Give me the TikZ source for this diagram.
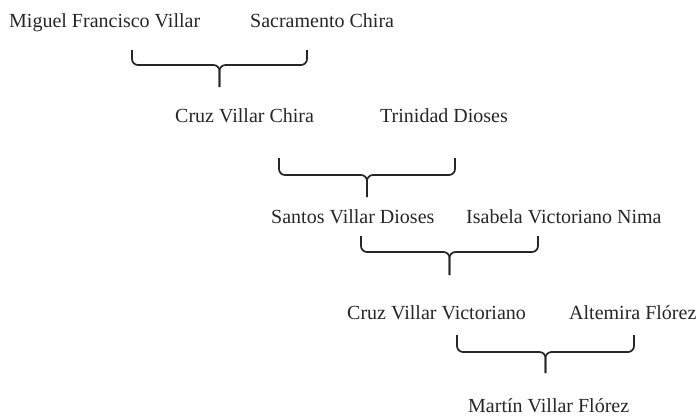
\documentclass[tikz,border=0pt]{standalone}
\usepackage{fontspec}
\setmainfont{Liberation Serif}
\usepackage{tikz}

\tikzset{
  person/.style={font=\fontsize{20}{24}\selectfont, text=black!85, anchor=base west, inner sep=0pt},
  brace/.style={draw=black!85, line width=1.7pt, rounded corners=6pt}
}

\begin{document}
\begin{tikzpicture}[x=1pt,y=-1pt]
    \useasboundingbox (0,0) rectangle (698,416);
    % generation 1
    \node[person] (miguel) at (9,27) {Miguel Francisco Villar};
    \node[person] (sacramento) at (250,27) {Sacramento Chira};
    % generation 2
    \node[person] (cruz1) at (175,122) {Cruz Villar Chira};
    \node[person] (trinidad) at (380,122) {Trinidad Dioses};
    % generation 3
    \node[person] (santos) at (271,223) {Santos Villar Dioses};
    \node[person] (isabela) at (466,223) {Isabela Victoriano Nima};
    % generation 4
    \node[person] (cruz2) at (347,319) {Cruz Villar Victoriano};
    \node[person] (altemira) at (569,319) {Altemira Flórez};
    % generation 5
    \node[person] (martin) at (468,412) {Martín Villar Flórez};

    % braces
    \coordinate (b1l) at (132,50);  \coordinate (b1r) at (307,50);
    \coordinate (b1m) at (219.5,65); \coordinate (b1s) at (219.5,87);
    \draw[brace] (b1l) |- (b1m) -- (b1s);
    \draw[brace] (b1r) |- (b1m) -- (b1s);

    \coordinate (b2l) at (279,158);  \coordinate (b2r) at (455,158);
    \coordinate (b2m) at (367,175); \coordinate (b2s) at (367,197);
    \draw[brace] (b2l) |- (b2m) -- (b2s);
    \draw[brace] (b2r) |- (b2m) -- (b2s);

    \coordinate (b3l) at (361,236);  \coordinate (b3r) at (538,236);
    \coordinate (b3m) at (449.5,252); \coordinate (b3s) at (449.5,275);
    \draw[brace] (b3l) |- (b3m) -- (b3s);
    \draw[brace] (b3r) |- (b3m) -- (b3s);

    \coordinate (b4l) at (457,335);  \coordinate (b4r) at (634,335);
    \coordinate (b4m) at (545.5,352); \coordinate (b4s) at (545.5,373);
    \draw[brace] (b4l) |- (b4m) -- (b4s);
    \draw[brace] (b4r) |- (b4m) -- (b4s);
\end{tikzpicture}
\end{document}
